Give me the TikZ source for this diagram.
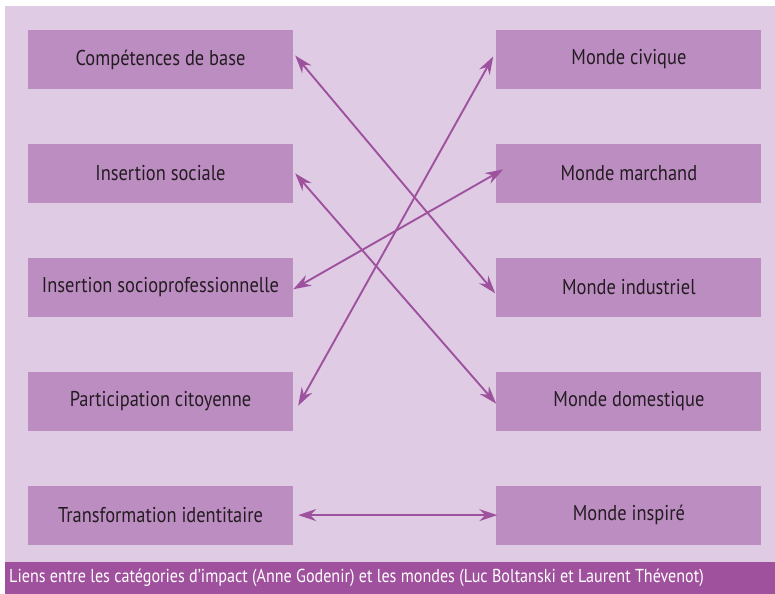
\documentclass[tikz,border=0pt]{standalone}
\usepackage{fontspec}
\setmainfont{PT Sans}[FakeStretch=0.86]
\usepackage{xcolor}
\usepackage{tikz}
\usetikzlibrary{positioning,arrows.meta}

\definecolor{bgmauve}{HTML}{DFCBE4}
\definecolor{boxmauve}{HTML}{BC8DC1}
\definecolor{linkmauve}{HTML}{9E529E}
\definecolor{barmauve}{HTML}{A0519D}
\definecolor{textdark}{HTML}{241C22}

\begin{document}
\begin{tikzpicture}[
    x=1bp, y=-1bp,
    node distance=54.5bp and 203bp,
    cat_box/.style={fill=boxmauve, minimum width=265bp, minimum height=59bp, inner sep=0pt, text=textdark, font=\fontsize{21.5}{24}\selectfont},
    link/.style={{Stealth[length=18bp,width=12bp,inset=6bp]}-{Stealth[length=18bp,width=12bp,inset=6bp]}, line width=1.9bp, draw=linkmauve}
]

% fond et bandeau
\useasboundingbox (0,0) rectangle (775,594);
\fill[bgmauve] (5,6) rectangle (775,562);
\fill[barmauve] (5,562) rectangle (775,594);

% categories d'impact
\node (comp)  [cat_box] at (160.5,59.5) {Compétences de base};
\node (insoc) [cat_box, below=of comp]  {Insertion sociale};
\node (prof)  [cat_box, below=of insoc] {Insertion socioprofessionnelle};
\node (part)  [cat_box, below=of prof]  {Participation citoyenne};
\node (trans) [cat_box, below=of part]  {Transformation identitaire};

% mondes
\node (civ)   [cat_box, right=of comp]  {Monde civique};
\node (march) [cat_box, right=of insoc] {Monde marchand};
\node (indus) [cat_box, right=of prof]  {Monde industriel};
\node (dom)   [cat_box, right=of part]  {Monde domestique};
\node (insp)  [cat_box, right=of trans] {Monde inspiré};

% liens
\draw [link] ([shift={(2bp,4bp)}]comp.east)   -- ([shift={(-1bp,-6bp)}]indus.west);
\draw [link] ([shift={(-3bp,3bp)}]civ.west)   -- ([shift={(5bp,-4.5bp)}]part.east);
\draw [link] ([xshift=2bp]insoc.east)         -- ([yshift=-2.5bp]dom.west);
\draw [link] ([shift={(7bp,4bp)}]march.west)  -- ([yshift=-2bp]prof.east);
\draw [link] ([xshift=5bp]trans.east)         -- ([xshift=1bp]insp.west);

\node (caption) [anchor=west, inner sep=0pt, text=white, font=\fontsize{18.8}{21}\selectfont] at (9,578)
    {Liens entre les catégories d’impact (Anne Godenir) et les mondes (Luc Boltanski et Laurent Thévenot)};

\end{tikzpicture}
\end{document}
